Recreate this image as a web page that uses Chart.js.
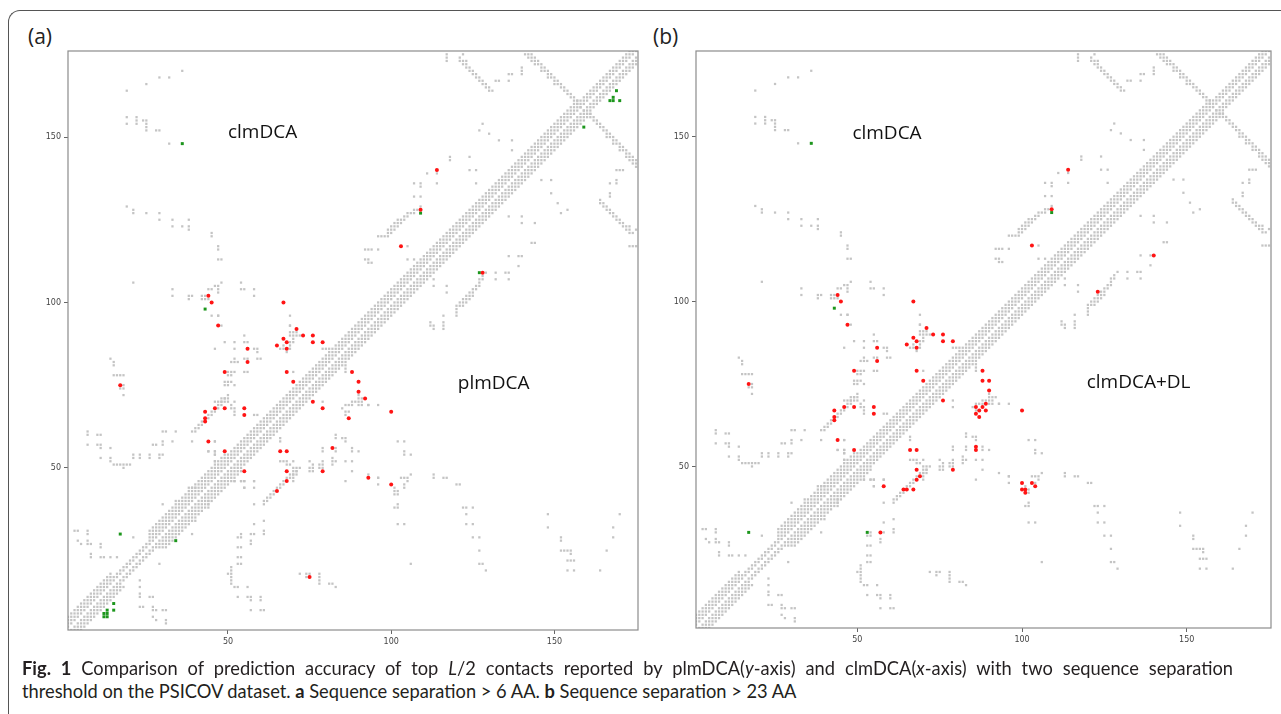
<!DOCTYPE html>
<html>
<head>
<meta charset="utf-8">
<title>Contact maps</title>
<script src="https://cdn.jsdelivr.net/npm/chart.js@4.4.0/dist/chart.umd.min.js"></script>
<style>
html, body { margin: 0; padding: 0; background: #fff; }
body { width: 1281px; height: 714px; position: relative; overflow: hidden; font-family: "Open Sans", sans-serif; }
.frame { position: absolute; left: 8px; top: 10px; width: 1320px; height: 760px;
         border-top: 1.5px solid #555; border-left: 1.5px solid #555; border-top-left-radius: 12px; }
.panel-label { position: absolute; top: 22px; font-size: 21px; color: #222; }
canvas { position: absolute; }
.caption { position: absolute; left: 22px; font-family: Lato, sans-serif; font-size: 18.3px;
           line-height: 23px; color: #231f20; white-space: nowrap; }
.caption.first { top: 657px; width: 1211px; text-align: justify; text-align-last: justify; white-space: normal; }
.caption.second { top: 680px; }
</style>
</head>
<body>
<div class="frame"></div>
<div class="panel-label" style="left:28px">(a)</div>
<div class="panel-label" style="left:653px">(b)</div>
<canvas id="chartA" width="632" height="620" style="left:18px;top:40px"></canvas>
<canvas id="chartB" width="635" height="620" style="left:646px;top:40px"></canvas>
<div class="caption first"><b>Fig. 1</b> Comparison of prediction accuracy of top <i>L</i>/2 contacts reported by plmDCA(<i>y</i>-axis) and clmDCA(<i>x</i>-axis) with two sequence separation</div>
<div class="caption second">threshold on the PSICOV dataset. <b>a</b> Sequence separation &gt; 6 AA. <b>b</b> Sequence separation &gt; 23 AA</div>
<script>
/* =========================
   DATA
========================= */

const xTicks = [50, 100, 150];
const yTicks = [50, 100, 150];

// near-diagonal native contacts: [fromResidue, toResidue, depth |i-j|]
const bandDepth = [
    [1, 14, 4],
    [15, 25, 2],
    [26, 48, 5],
    [49, 125, 4],
    [126, 157, 4],
    [158, 175, 3]
];

// off-diagonal native contacts [i, j], i < j (map is symmetric)
const contactsTopLeft = [
    [19,164],[25,166],[29,168],[32,168],[36,170],
    [19,156],[19,154],[22,156],[22,155],[22,154],[24,155],[25,155],[25,154],[25,153],[25,152],[28,152],[29,152],[32,148],[36,148],
    [19,129],[21,128],[21,127],[25,127],[29,127],[29,125],[33,125],[33,123],[36,123],[38,125],[38,123],[38,122],
    [45,121],[45,120],[47,117],[47,116],[47,113],[48,113],
    [21,106],[33,104],[33,102],[38,102],[39,102],[38,101],
    [48,106],[47,105],[46,105],[45,104],[44,104],[47,104],[42,102],[43,102],[42,101],[43,101],[44,101],[47,103],
    [54,106],[54,104],[55,104],[58,104],[58,102],[45,96],[47,96],[69,96],[69,93]
];

const contactsMiddle = [
    [69,91],[70,91],[71,91],[70,90],[69,90],[70,88],[69,88],[67,87],[67,86],[66,86],
    [79,86],[80,86],[81,86],[70,79],[68,79],
    [46,86],[49,88],[52,88],[55,88],[52,86],[58,86],[59,86],[59,85],[51,82],[52,82],[53,82],[52,83],[55,83],[56,83],[59,83],[60,83],
    [14,83],[15,82],[15,81],[15,78],[16,78],[17,78],[18,78],[18,75],[18,74],[18,72],[17,74],
    [50,79],[51,79],[52,79],[50,78],[51,78],[55,79],[56,79],
    [49,76],[50,76],[51,76],[52,75],[50,75],[49,75],[50,72],
    [48,71],[49,71],[46,70],[47,70],[48,70],[50,70],[52,70],
    [52,68],[58,66],[59,66],
    [72,90],[71,90],[71,92],[69,93],
    [70,89],[69,86],[69,87],[68,85],[56,88],[55,90],
    [48,93],[47,96]
];

const contactsLower = [
    [39,61],[40,61],[40,62],[41,62],[41,63],[42,63],[42,64],[43,64],[44,65],[44,66],[45,66],[45,67],[46,67],
    [47,68],[47,69],[48,69],[48,70],[49,70],[49,71],[50,71],
    [52,66],[52,67],[51,68],[51,69],
    [39,58],[46,58],[44,55],[46,55],[46,54],[46,52],[49,54],
    [7,61],[7,60],[10,60],[11,60],[7,57],[10,57],[11,57],[11,56],[14,56],[11,53],[14,53],[14,52],
    [15,51],[16,51],[17,51],[18,51],[18,50],[20,51],[19,51],
    [21,54],[21,53],[23,53],[23,54],[26,54],[26,53],[29,54],[29,53],[30,54],
    [27,57],[28,57],[30,58],[30,57],[33,58],[30,61],[31,61],[34,61],
    [3,31],[4,31],[7,31],[7,30],[4,28],[5,27],[7,27],[8,27],[11,27],[11,26],[8,24],[8,23],[11,23],[12,23],[14,23],[7,28],[16,23],
    [21,29],[30,39],[34,40],[39,44],[40,44],[38,44],
    [46,52],[46,54],[46,55],[46,58],[44,55],[44,58]
];

const contactsUpper = [
    [96,120],[97,120],[98,120],[99,120],[99,121],[100,121],[100,122],[101,122],[101,123],[102,123],[102,124],
    [103,124],[103,125],[104,125],[105,126],[106,127],[107,127],[107,128],[108,128],
    [99,122],[100,123],[101,124],[102,125],[104,126],[105,127],
    [92,116],[93,116],[94,116],[96,116],[92,113],[93,112],[94,112],[93,113],[105,117],[103,117],[105,113],[107,113],
    [107,136],[109,136],[109,135],[114,136],[107,132],[109,132],[109,129],[111,139],[114,139],[114,140],
    [126,136],[126,140],[124,140],[124,144],[118,144],[118,143],[117,175],[117,174],[117,173],[122,175],
    [128,154],[127,152],[130,151],[133,149],[137,149],[137,146],
    [132,167],[133,167],[136,167],[136,169],[137,169],[140,171],[140,170],[140,169],
    // antiparallel pair 121-131 / 164-175
    [121,173],[122,172],[123,171],[124,170],[125,169],[126,168],[127,167],[128,166],[129,165],[130,164],
    [122,173],[123,172],[124,171],[125,170],[126,169],[127,168],[128,167],[129,166],[130,165],[131,164],
    [121,174],[123,173],
    // antiparallel hairpin 141-158 / 159-175 (the X)
    [142,175],[143,174],[144,173],[145,172],[146,171],[147,170],[148,169],[149,168],[150,167],
    [151,166],[152,165],[153,164],[154,163],[155,162],[156,161],[157,160],[158,159],
    [143,175],[144,174],[145,173],[146,172],[147,171],[148,170],[149,169],[150,168],
    [151,167],[152,166],[153,165],[154,164],[155,163],[156,162],[157,161],
    [141,175],[142,174],[143,173],[144,172],[146,170],[148,168],[150,166]
];

// clmDCA predictions (upper-left triangle, both panels) [x, y]
const redClm = [
    [114,140],[109,128],[103,117],[44,102],[45,100],[47,93],[17,75],[49,79],[56,86],[56,82],
    [67,100],[71,92],[73,90],[76,90],[76,88],[79,88],[67,89],[68,88],[68,86],[65,87],[68,79],[70,76],
    [43,67],[43,65],[43,64],[46,68],[49,68],[55,68],[55,66],[44,58],[49,55]
];
const greenClm = [[36,148],[109,127],[43,98],[17,30]];

// plmDCA predictions (lower-right, panel a)
const redPlm = [
    [128,109],[88,79],[90,76],[90,73],[92,71],[76,70],[79,68],[100,67],[87,65],[82,56],
    [79,49],[93,47],[100,45],[75,17],[66,55],[68,55],[55,49],[68,49],[68,46],[65,43]
];
const greenPlm = [
    [159,153],[169,164],[168,162],[167,161],[168,161],[170,161],[127,109],[34,28],
    [15,9],[15,7],[12,5],[13,5],[12,6],[13,6],[13,7]
];

// clmDCA+DL predictions (lower-right, panel b)
const redDL = [
    [140,114],[123,103],[76,70],[66,55],[68,55],[88,79],[88,76],[90,76],[90,73],[89,69],[88,68],[86,68],
    [87,67],[86,66],[87,65],[89,67],[100,67],[86,56],[86,55],[79,49],[100,45],[100,43],[101,43],[101,42],
    [103,45],[104,44],[68,49],[69,47],[68,46],[58,44],[64,43],[65,43],[67,43],[57,30]
];
const greenDL = [[53,30]];

/* =========================
   POINT BUILDERS
========================= */

function toPoints(list) {
    return list.map(([x, y]) => ({ x, y }));
}

function mirrorPairs(pairs) {
    const pts = [];
    pairs.forEach(([i, j]) => {
        pts.push({ x: i, y: j }, { x: j, y: i });
    });
    return pts;
}

function bandPoints(runs) {
    const pts = [];
    runs.forEach(([from, to, depth]) => {
        for (let i = from; i <= to; i++) {
            for (let d = 1; d <= depth; d++) {
                if (i + d > 176) continue;
                pts.push({ x: i, y: i + d }, { x: i + d, y: i });
            }
        }
    });
    return pts;
}

const nativePoints = bandPoints(bandDepth).concat(
    mirrorPairs(contactsTopLeft),
    mirrorPairs(contactsMiddle),
    mirrorPairs(contactsLower),
    mirrorPairs(contactsUpper)
);

/* =========================
   PLUGINS
========================= */

const frameBox = {
    id: 'frameBox',
    afterDraw(chart) {
        const { ctx, chartArea: a } = chart;
        ctx.save();
        ctx.strokeStyle = '#8c8c8c';
        ctx.lineWidth = 1.2;
        ctx.strokeRect(a.left, a.top, a.right - a.left, a.bottom - a.top);
        ctx.restore();
    }
};

const panelText = {
    id: 'panelText',
    afterDatasetsDraw(chart, args, opts) {
        const { ctx, scales } = chart;
        ctx.save();
        ctx.font = '19px "Open Sans"';
        ctx.fillStyle = '#111';
        ctx.textAlign = 'center';
        ctx.textBaseline = 'middle';
        (opts.items || []).forEach(t => {
            ctx.fillText(t.text, scales.x.getPixelForValue(t.x), scales.y.getPixelForValue(t.y));
        });
        ctx.restore();
    }
};

/* =========================
   CONTACT MAP CHART
========================= */

function createContactMap(canvasId, redPts, greenPts, labels, axisW, axisH, padRight) {

    const ctx = document.getElementById(canvasId).getContext('2d');

    const tickFont = { size: 8, family: 'DejaVu Sans' };

    return new Chart(ctx, {
        type: 'scatter',
        data: {
            datasets: [
                {
                    label: 'false',
                    data: redPts,
                    pointStyle: 'circle',
                    pointRadius: 2,
                    backgroundColor: '#ff1414',
                    borderWidth: 0
                },
                {
                    label: 'true',
                    data: greenPts,
                    pointStyle: 'rect',
                    pointRadius: 2.1,
                    backgroundColor: '#1c961c',
                    borderWidth: 0
                },
                {
                    label: 'native',
                    data: nativePoints,
                    pointStyle: 'rect',
                    pointRadius: 1.6,
                    backgroundColor: '#c4c4c4',
                    borderWidth: 0
                }
            ]
        },
        options: {
            responsive: false,
            animation: false,
            devicePixelRatio: 1,
            layout: { padding: { top: 11, right: padRight, left: 0, bottom: 0 } },
            plugins: {
                legend: { display: false },
                tooltip: { enabled: false },
                panelText: { items: labels }
            },
            scales: {
                x: {
                    type: 'linear',
                    min: 1,
                    max: 175.6,
                    afterFit(s) { s.height = axisH; },
                    afterBuildTicks(s) { s.ticks = xTicks.map(v => ({ value: v })); },
                    ticks: { font: tickFont, color: '#444', padding: 3, maxRotation: 0, autoSkip: false },
                    grid: { drawOnChartArea: false, drawTicks: true, tickLength: 4, color: '#666' },
                    border: { display: false }
                },
                y: {
                    type: 'linear',
                    min: 1,
                    max: 176,
                    afterFit(s) { s.width = axisW; },
                    afterBuildTicks(s) { s.ticks = yTicks.map(v => ({ value: v })); },
                    ticks: { font: tickFont, color: '#444', padding: 3, autoSkip: false },
                    grid: { drawOnChartArea: false, drawTicks: true, tickLength: 4, color: '#666' },
                    border: { display: false }
                }
            }
        },
        plugins: [frameBox, panelText]
    });
}

createContactMap(
    'chartA',
    toPoints(redClm.concat(redPlm)),
    toPoints(greenClm.concat(greenPlm)),
    [
        { text: 'clmDCA', x: 60.6, y: 151.2 },
        { text: 'plmDCA', x: 131.4, y: 75.6 }
    ],
    50, 30, 12
);

createContactMap(
    'chartB',
    toPoints(redClm.concat(redDL)),
    toPoints(greenClm.concat(greenDL)),
    [
        { text: 'clmDCA', x: 59, y: 151.1 },
        { text: 'clmDCA+DL', x: 135.4, y: 75.4 }
    ],
    50, 32, 10
);
</script>
</body>
</html>
